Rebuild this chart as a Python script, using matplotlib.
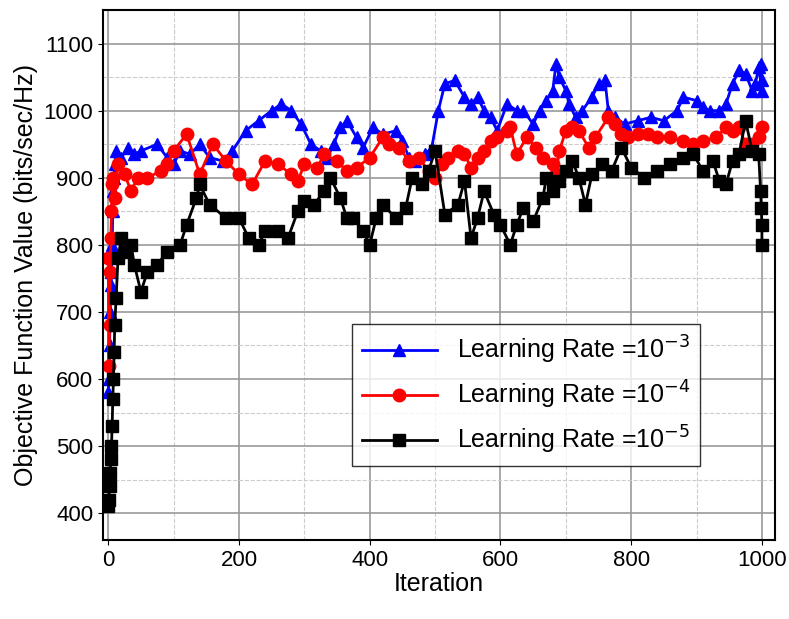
import matplotlib.pyplot as plt
from matplotlib.ticker import MultipleLocator

plt.rcParams['font.family'] = 'Liberation Sans'

blue_x = [0, 1, 2, 3, 4, 5, 6, 7, 8, 9, 10, 12, 20, 30, 40, 50, 75, 90, 100, 110, 125, 140, 155, 175,
          190, 210, 230, 250, 265, 280, 295, 310, 325, 335, 345, 355, 365, 380, 390, 405, 420, 440,
          450, 460, 470, 485, 495, 505, 515, 530, 545, 555, 565, 575, 585, 595, 610, 625, 635, 650,
          660, 670, 680, 685, 690, 700, 705, 715, 725, 740, 750, 760, 765, 775, 790, 810, 830, 850,
          870, 880, 900, 910, 920, 935, 945, 955, 965, 975, 985, 990, 995, 1000, 1000, 998]
blue_y = [580, 600, 650, 700, 740, 760, 800, 850, 880, 900, 920, 940, 930, 945, 935, 940, 950, 930,
          920, 940, 935, 950, 930, 925, 940, 970, 985, 1000, 1010, 1000, 980, 950, 940, 930, 950,
          975, 985, 960, 945, 975, 965, 970, 955, 930, 925, 935, 945, 1000, 1040, 1045, 1020, 1010,
          1020, 1000, 990, 970, 1010, 1000, 1000, 980, 1000, 1015, 1030, 1070, 1050, 1030, 1010,
          990, 1000, 1020, 1040, 1045, 1000, 990, 980, 985, 990, 985, 1000, 1020, 1015, 1005, 1000,
          1000, 1010, 1040, 1060, 1055, 1030, 1040, 1065, 1030, 1045, 1070]

red_x = [0, 1, 2, 3, 4, 5, 6, 8, 10, 15, 25, 35, 45, 60, 80, 90, 100, 120, 140, 160, 180, 200, 220,
         240, 260, 280, 290, 300, 320, 330, 350, 365, 380, 400, 420, 430, 445, 460, 475, 490, 500,
         510, 520, 535, 545, 555, 565, 575, 585, 595, 610, 615, 625, 640, 655, 665, 680, 685, 690,
         700, 710, 720, 735, 745, 765, 775, 785, 795, 810, 825, 840, 860, 880, 895, 910, 930, 945,
         955, 965, 975, 985, 995, 1000]
red_y = [780, 620, 680, 760, 810, 850, 890, 900, 870, 920, 905, 880, 900, 900, 910, 920, 940, 965,
         905, 950, 925, 905, 890, 925, 920, 905, 895, 920, 915, 935, 925, 910, 915, 930, 960, 950,
         945, 925, 930, 910, 900, 920, 930, 940, 935, 915, 930, 940, 955, 960, 970, 975, 935, 960,
         945, 930, 920, 905, 940, 970, 975, 970, 945, 960, 990, 980, 965, 960, 965, 965, 960, 960,
         955, 950, 955, 960, 975, 970, 975, 950, 950, 960, 975]

black_x = [0, 1, 2, 3, 4, 5, 6, 7, 8, 9, 10, 12, 15, 20, 25, 35, 40, 50, 60, 75, 90, 110, 120, 135,
           140, 155, 180, 200, 215, 230, 240, 260, 275, 290, 300, 315, 330, 340, 355, 365, 375, 390,
           400, 410, 420, 440, 455, 465, 480, 490, 500, 515, 535, 545, 555, 565, 575, 590, 600, 615,
           625, 635, 650, 665, 670, 680, 690, 700, 710, 720, 730, 740, 755, 770, 785, 800, 820, 840,
           860, 880, 895, 910, 925, 935, 945, 955, 965, 975, 985, 995, 998, 999, 1000, 1000]
black_y = [410, 420, 440, 460, 480, 500, 530, 570, 600, 640, 680, 720, 780, 810, 790, 800, 770, 730,
           760, 770, 790, 800, 830, 870, 890, 860, 840, 840, 810, 800, 820, 820, 810, 850, 865, 860,
           880, 900, 870, 840, 840, 820, 800, 840, 860, 840, 855, 900, 890, 910, 940, 845, 860, 895,
           810, 840, 880, 845, 830, 800, 830, 855, 835, 870, 900, 880, 895, 910, 925, 900, 860, 905,
           920, 910, 945, 915, 900, 910, 920, 930, 935, 910, 925, 895, 890, 925, 935, 985, 940, 935,
           880, 855, 830, 800]

fig = plt.figure(figsize=(7.89, 6.19), dpi=100)
ax = fig.add_axes([103 / 789, 79 / 619, 672 / 789, 530 / 619])

ax.plot(blue_x, blue_y, color='blue', marker='^', markersize=9, linewidth=2,
        label='Learning Rate =10$^{-3}$')
ax.plot(red_x, red_y, color='red', marker='o', markersize=9, linewidth=2,
        label='Learning Rate =10$^{-4}$')
ax.plot(black_x, black_y, color='black', marker='s', markersize=8, linewidth=2,
        label='Learning Rate =10$^{-5}$')

ax.set_xlim(-8, 1020)
ax.set_ylim(360, 1150)
ax.xaxis.set_major_locator(MultipleLocator(200))
ax.xaxis.set_minor_locator(MultipleLocator(100))
ax.yaxis.set_major_locator(MultipleLocator(100))
ax.yaxis.set_minor_locator(MultipleLocator(50))
ax.grid(which='major', color='#999999', linewidth=1.2)
ax.grid(which='minor', color='#cccccc', linestyle='--', linewidth=0.8)
ax.set_axisbelow(True)
ax.tick_params(labelsize=16, direction='out')
ax.tick_params(which='minor', length=0)
for s in ax.spines.values():
    s.set_linewidth(1.5)

ax.set_xlabel('Iteration', fontsize=18, labelpad=1)
ax.set_ylabel('Objective Function Value (bits/sec/Hz)', fontsize=18)
ax.legend(loc='lower left', bbox_to_anchor=(0.37, 0.14), fontsize=18, frameon=True,
          fancybox=False, edgecolor='black', handlelength=3, borderaxespad=0)

fig.savefig('out.png', dpi=100)
